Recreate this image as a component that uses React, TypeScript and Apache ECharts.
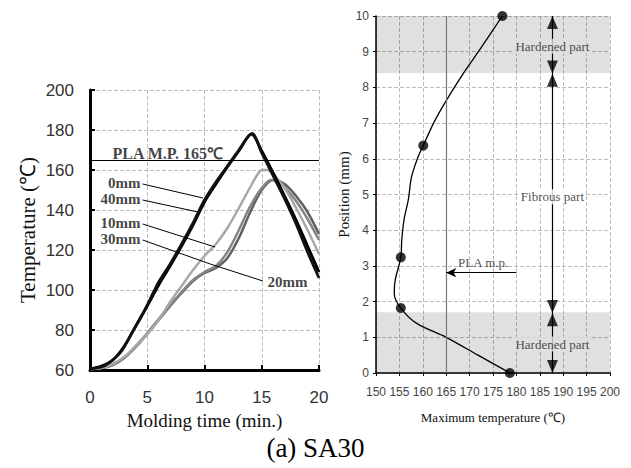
import React, { useEffect, useRef } from "react";
import * as echarts from "echarts";

// ---------- Left chart: temperature vs molding time ----------
const timeTicks = [0, 5, 10, 15, 20];
const tempTicks = [60, 80, 100, 120, 140, 160, 180, 200];
const plaMeltingPoint = 165;

const curve0mm: [number, number][] = [
  [0, 60.5], [1, 61.5], [1.6, 63.3], [2.7, 69], [3.7, 79], [4.6, 88], [5.6, 99.5], [6, 104],
  [7, 113], [8, 123], [9, 133.5], [10, 145], [11, 154], [12, 162], [13, 170], [14.15, 178.3],
  [15, 168.5], [16, 157], [17, 145.5], [18, 133], [19, 119], [20, 106],
];
const curve40mm: [number, number][] = [
  [0, 60.5], [1, 62], [2, 65], [3, 72], [4, 82], [5, 92], [6, 102.5], [7, 112], [8, 122],
  [9, 132.5], [10, 144], [11, 153], [12, 161.5], [13, 169.5], [14.1, 178], [15, 169.5],
  [16, 158.5], [17, 147], [18, 135], [19, 122], [20, 109],
];
const curve10mm: [number, number][] = [
  [0, 60.5], [1, 61], [2, 63], [3, 66.5], [4, 72], [5, 78], [6, 85], [7, 94], [8, 102],
  [9, 110], [10, 117], [11, 123], [12, 131], [13, 141], [14, 151.5], [14.6, 157.5], [15, 160],
  [15.5, 160], [16, 158], [17, 151], [18, 141], [19, 130], [20, 118],
];
const curve30mm: [number, number][] = [
  [0, 60.5], [1, 61], [2, 63], [3, 66.5], [4, 72], [5, 78.5], [6, 85.5], [7, 92.5], [8, 99],
  [9, 105], [10, 109], [11, 112], [12, 119], [13, 130], [14, 142], [15, 151], [15.8, 155],
  [16.5, 154], [17, 151.5], [18, 144.5], [19, 135.5], [20, 125],
];
const curve20mm: [number, number][] = [
  [0, 60.5], [1, 61], [2, 62.5], [3, 66], [4, 71.5], [5, 78], [6, 85], [7, 92], [8, 98.5],
  [9, 104.5], [10, 108.5], [11, 111], [12, 116], [13, 126], [14, 139], [15, 150], [16, 155],
  [17, 153], [18, 147], [19, 139], [20, 128],
];

const curveLabels = [
  { name: "0mm", anchor: [4.4, 153.5], side: "left", from: [4.6, 153], to: [9.87, 146] },
  { name: "40mm", anchor: [4.4, 145.5], side: "left", from: [4.6, 145], to: [9.43, 139] },
  { name: "10mm", anchor: [4.4, 133.5], side: "left", from: [4.6, 133], to: [10.92, 121.5] },
  { name: "30mm", anchor: [4.4, 125.5], side: "left", from: [4.6, 125], to: [10.5, 113] },
  { name: "20mm", anchor: [15.5, 104], side: "right", from: [15.1, 104.5], to: [10.5, 113] },
];
const plaLabel = { text: "PLA M.P. 165\u2103", anchor: [6.8, 168.5] };

// ---------- Right chart: position vs maximum temperature ----------
const maxTempTicks = [150, 155, 160, 165, 170, 175, 180, 185, 190, 195, 200];
const positionTicks = [0, 1, 2, 3, 4, 5, 6, 7, 8, 9, 10];

const profilePoints: [number, number][] = [
  [178.6, 0], [155.3, 1.82], [155.3, 3.24], [160.1, 6.37], [177, 10],
];
const profileCurve: [number, number][] = [
  [178.6, 0], [171.8, 0.5], [165, 1.0], [158.7, 1.39], [155.3, 1.82], [153.9, 2.23],
  [154.1, 2.6], [155.3, 3.24], [155.5, 3.72], [156, 4.3], [156.9, 4.85], [157.6, 5.5],
  [159, 6.06], [160.1, 6.37], [162.3, 7.0], [165.1, 7.65], [168.7, 8.4], [172.6, 9.14],
  [177, 10],
];
const hardenedBands: [number, number][] = [[0, 1.7], [8.4, 10]];
const zoneArrowX = 187.7;
const upArrowPos = [9.82, 8.2, 1.49];
const downArrowPos = [8.57, 1.86, 0.18];
const zoneLabels = [
  { name: "Hardened part", pos: 9.15, bg: "#e0e0e0" },
  { name: "Fibrous part", pos: 4.94, bg: "#ffffff" },
  { name: "Hardened part", pos: 0.81, bg: "#e0e0e0" },
];
const plaArrow = { from: [165, 2.81], to: [180, 2.81], label: "PLA m.p.", labelAt: [172.9, 3.1] };

const SERIF = "Liberation Serif";
const SANS = "Liberation Sans";

export default function App() {
  const ref = useRef<HTMLDivElement>(null);

  useEffect(() => {
    if (!ref.current) return;
    const chart = echarts.init(ref.current, null, { renderer: "svg" });

    const dashed = { show: true, lineStyle: { type: "dashed", color: "#bdbdbd", width: 1 } };

    const leftLine = (name: string, data: [number, number][], color: string, width: number) => ({
      name,
      type: "line",
      xAxisIndex: 0,
      yAxisIndex: 0,
      data,
      smooth: 0.3,
      showSymbol: false,
      symbol: "none",
      lineStyle: { color, width },
      z: 3,
    });

    const option: any = {
      animation: false,
      backgroundColor: "#ffffff",
      textStyle: { fontFamily: SERIF },
      grid: [
        { left: 90, top: 90, width: 229, height: 280 },
        { left: 376, top: 16, width: 234, height: 357 },
      ],
      xAxis: [
        {
          gridIndex: 0,
          type: "value",
          min: timeTicks[0],
          max: timeTicks[timeTicks.length - 1],
          interval: 5,
          name: "Molding time (min.)",
          nameLocation: "middle",
          nameGap: 35,
          nameTextStyle: { fontFamily: SERIF, fontSize: 19, color: "#111" },
          axisLine: { lineStyle: { color: "#000", width: 3 } },
          axisTick: { inside: true, length: 5, lineStyle: { color: "#000", width: 2 } },
          axisLabel: { margin: 19, fontFamily: SANS, fontSize: 17, color: "#333" },
          splitLine: dashed,
        },
        {
          gridIndex: 1,
          type: "value",
          min: maxTempTicks[0],
          max: maxTempTicks[maxTempTicks.length - 1],
          interval: 5,
          name: "Maximum temperature (\u2103)",
          nameLocation: "middle",
          nameGap: 38,
          nameTextStyle: { fontFamily: SERIF, fontSize: 13, color: "#111" },
          axisLine: { lineStyle: { color: "#000", width: 1.5 } },
          axisTick: { show: true, length: 3, lineStyle: { color: "#000" } },
          axisLabel: { margin: 13, fontFamily: SANS, fontSize: 12, color: "#444" },
          splitLine: dashed,
        },
      ],
      yAxis: [
        {
          gridIndex: 0,
          type: "value",
          min: tempTicks[0],
          max: tempTicks[tempTicks.length - 1],
          interval: 20,
          name: "Temperature (\u2103)",
          nameLocation: "middle",
          nameGap: 52,
          nameTextStyle: { fontFamily: SERIF, fontSize: 21, color: "#111" },
          axisLine: { show: true, lineStyle: { color: "#000", width: 3 } },
          axisTick: { show: true, inside: true, length: 5, lineStyle: { color: "#000", width: 2 } },
          axisLabel: { margin: 16, fontFamily: SANS, fontSize: 17, color: "#333" },
          splitLine: dashed,
        },
        {
          gridIndex: 1,
          type: "value",
          min: positionTicks[0],
          max: positionTicks[positionTicks.length - 1],
          interval: 1,
          name: "Position (mm)",
          nameLocation: "middle",
          nameGap: 23,
          nameTextStyle: { fontFamily: SERIF, fontSize: 15, color: "#111" },
          axisLine: { show: true, lineStyle: { color: "#000", width: 1.5 } },
          axisTick: { show: true, length: 3, lineStyle: { color: "#000" } },
          axisLabel: { margin: 7, fontFamily: SANS, fontSize: 12, color: "#444" },
          splitLine: dashed,
        },
      ],
      series: [
        // Left chart curves
        {
          ...leftLine("20mm", curve20mm, "#606060", 2.5),
          markLine: {
            silent: true,
            symbol: "none",
            label: { show: false },
            lineStyle: { color: "#000", width: 1, type: "solid" },
            data: [{ yAxis: plaMeltingPoint }],
          },
        },
        leftLine("30mm", curve30mm, "#858585", 2.5),
        leftLine("10mm", curve10mm, "#a8a8a8", 2.5),
        leftLine("40mm", curve40mm, "#000000", 2.8),
        leftLine("0mm", curve0mm, "#111111", 2.8),
        {
          type: "lines",
          coordinateSystem: "cartesian2d",
          xAxisIndex: 0,
          yAxisIndex: 0,
          silent: true,
          lineStyle: { color: "#000", width: 1, opacity: 1 },
          data: curveLabels.map((c) => ({ coords: [c.from, c.to] })),
          z: 4,
        },
        {
          type: "scatter",
          xAxisIndex: 0,
          yAxisIndex: 0,
          symbolSize: 0,
          silent: true,
          z: 6,
          data: [
            ...curveLabels.map((c) => ({
              name: c.name,
              value: c.anchor,
              label: { position: c.side, distance: 0 },
            })),
            {
              name: plaLabel.text,
              value: plaLabel.anchor,
              label: { position: "inside", fontSize: 16 },
            },
          ],
          label: {
            show: true,
            formatter: (p: any) => p.name,
            fontFamily: SERIF,
            fontSize: 15,
            fontWeight: "bold",
            color: "#111",
          },
        },
        // Right chart
        {
          type: "line",
          xAxisIndex: 1,
          yAxisIndex: 1,
          data: profileCurve,
          smooth: 0.3,
          symbol: "none",
          lineStyle: { color: "#000", width: 1.3 },
          z: 4,
          markArea: {
            silent: true,
            itemStyle: { color: "rgba(0,0,0,0.12)" },
            data: hardenedBands.map((b) => [{ yAxis: b[0] }, { yAxis: b[1] }]),
          },
          markLine: {
            silent: true,
            symbol: "none",
            label: { show: false },
            lineStyle: { color: "#7a7a7a", width: 1.2, type: "solid" },
            data: [{ xAxis: plaMeltingPoint }],
          },
        },
        {
          type: "scatter",
          xAxisIndex: 1,
          yAxisIndex: 1,
          data: profilePoints,
          symbol: "circle",
          symbolSize: 10,
          itemStyle: { color: "#000" },
          z: 5,
          markLine: {
            silent: true,
            label: { show: false },
            data: [
              [
                { coord: [zoneArrowX, 0], symbol: "none" },
                { coord: [zoneArrowX, 10], symbol: "none" },
              ],
            ],
            lineStyle: { color: "#000", width: 1.2, type: "solid" },
          },
        },
        {
          type: "scatter",
          xAxisIndex: 1,
          yAxisIndex: 1,
          silent: true,
          data: upArrowPos.map((p) => [zoneArrowX, p]),
          symbol: "triangle",
          symbolSize: [11, 13],
          itemStyle: { color: "#000" },
          z: 5,
        },
        {
          type: "scatter",
          xAxisIndex: 1,
          yAxisIndex: 1,
          silent: true,
          data: downArrowPos.map((p) => [zoneArrowX, p]),
          symbol: "triangle",
          symbolRotate: 180,
          symbolSize: [11, 13],
          itemStyle: { color: "#000" },
          z: 5,
        },
        {
          type: "line",
          xAxisIndex: 1,
          yAxisIndex: 1,
          silent: true,
          data: [],
          markLine: {
            silent: true,
            label: { show: false },
            symbol: ["arrow", "none"],
            symbolSize: [7, 10],
            lineStyle: { color: "#000", width: 1, type: "solid" },
            data: [[{ coord: plaArrow.from }, { coord: plaArrow.to }]],
          },
        },
        {
          type: "scatter",
          xAxisIndex: 1,
          yAxisIndex: 1,
          symbolSize: 0,
          silent: true,
          z: 8,
          data: [
            ...zoneLabels.map((z) => ({
              name: z.name,
              value: [zoneArrowX, z.pos],
              label: { backgroundColor: z.bg },
            })),
            { name: plaArrow.label, value: plaArrow.labelAt, label: { backgroundColor: "transparent" } },
          ],
          label: {
            show: true,
            position: "inside",
            formatter: (p: any) => p.name,
            fontFamily: SERIF,
            fontSize: 13,
            color: "#222",
            padding: [1, 2],
          },
        },
      ],
      graphic: [
        {
          type: "text",
          left: "center",
          top: 434,
          style: { text: "(a) SA30", fontFamily: SERIF, fontSize: 27, fill: "#000" },
        },
      ],
    };

    chart.setOption(option);
    return () => chart.dispose();
  }, []);

  return (
    <div
      ref={ref}
      style={{ position: "fixed", left: 0, top: 0, width: 631, height: 468, background: "#fff" }}
    />
  );
}
